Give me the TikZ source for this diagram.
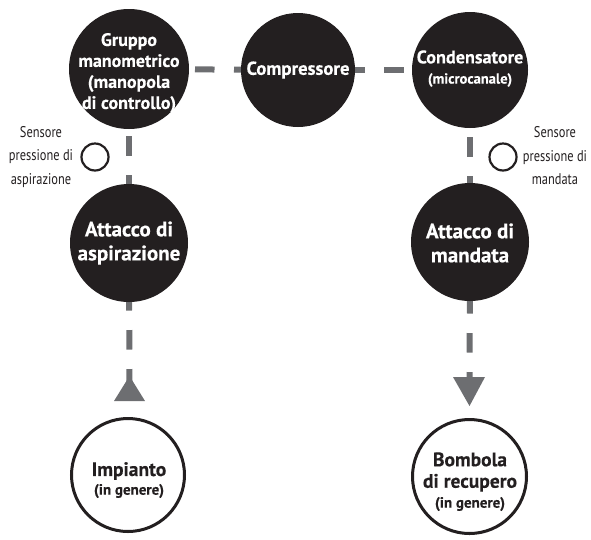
\documentclass[tikz,border=0pt]{standalone}
\usepackage{fontspec}
\setmainfont{PT Sans}[BoldFeatures={FakeBold=0.3}]
\newfontfamily\condfont[FakeStretch=0.8]{PT Sans}
\usetikzlibrary{backgrounds}
\definecolor{ink}{HTML}{231F20}
\definecolor{dashgray}{HTML}{6D6E71}
\begin{document}
\begin{tikzpicture}[x=1pt,y=-1pt,
  blackdot/.style={circle,fill=ink,draw=none,inner sep=0pt,minimum size=#1},
  whitedot/.style={circle,fill=white,draw=ink,line width=3pt,inner sep=0pt,minimum size=#1},
  sensor/.style={circle,draw=ink,line width=2.2pt,fill=white,inner sep=0pt,minimum size=27pt},
  wtxt/.style={text=white,font=\bfseries\fontsize{18}{21}\selectfont,align=center,inner sep=0pt},
  wsmall/.style={text=white,font=\bfseries\fontsize{14.5}{15}\selectfont,align=center,inner sep=0pt},
  btxt/.style={text=ink,font=\bfseries\fontsize{19.5}{21.5}\selectfont,align=center,inner sep=0pt},
  bsmall/.style={text=ink,font=\bfseries\fontsize{15}{15}\selectfont,align=center,inner sep=0pt},
  lbl/.style={text=ink,font=\condfont\fontsize{15.5}{23.5}\selectfont,align=center,inner sep=0pt},
  link/.style={draw=dashgray,line width=6pt,dash pattern=on 19.5pt off 19.5pt},
  tipshape/.style={fill=dashgray,draw=none}]
\useasboundingbox (0,0) rectangle (591,539);

% circles
\node[blackdot=120pt] (gruppo) at (129,69) {};
\node[blackdot=114pt] (compr) at (298,70) {};
\node[blackdot=116pt] (cond) at (470,70) {};
\node[blackdot=118pt] (attL) at (129,243) {};
\node[blackdot=118pt] (attR) at (470,242) {};
\node[whitedot=113pt] (imp) at (128,475) {};
\node[whitedot=114pt] (bomb) at (469.5,476.5) {};

% sensors
\node[sensor] (sensL) at (95,157) {};
\node[sensor] (sensR) at (503,157) {};

% arrow heads
\fill[tipshape] (114,401) -- (129.5,376) -- (145,401) -- cycle;
\coordinate (tipL) at (129.5,392);
\fill[tipshape] (453,377) -- (485,377) -- (469.5,406) -- cycle;
\coordinate (tipR) at (469.5,386);

% connectors
\begin{scope}[on background layer]
\draw[link,dash phase=12pt] (gruppo.center) -- (compr.center);
\draw[link,dash phase=31pt] (compr.center) -- (cond.center);
\draw[link,dash phase=11pt] (gruppo.center) -- (attL.center);
\draw[link,dash phase=11pt] (cond.center) -- (attR.center);
\draw[link,dash phase=30pt] (attL.center) -- (tipL);
\draw[link,dash phase=26pt] (attR.center) -- (tipR);
\end{scope}

% texts
\node[wtxt] (tGruppo) at (129,73) {Gruppo\\manometrico\\(manopola\\di controllo)};
\node[wtxt,font=\bfseries\fontsize{18.7}{21}\selectfont] (tCompr) at (298,70) {Compressore};
\node[wtxt,font=\bfseries\fontsize{18.2}{21}\selectfont] (tCond) at (470,57) {Condensatore};
\node[wsmall] (tMicro) at (470,80) {(microcanale)};
\node[wtxt,font=\bfseries\fontsize{21}{24}\selectfont] (tAttL) at (129,243) {Attacco di\\aspirazione};
\node[wtxt,font=\bfseries\fontsize{21}{24}\selectfont] (tAttR) at (470,243) {Attacco di\\mandata};
\node[btxt] (tImp) at (129,471) {Impianto};
\node[bsmall] (tImpG) at (129,491) {(in genere)};
\node[btxt] (tBomb) at (470,472) {Bombola\\di recupero};
\node[bsmall] (tBombG) at (470,504) {(in genere)};
\node[lbl] (lSensL) at (41,157) {Sensore\\pressione di\\aspirazione};
\node[lbl] (lSensR) at (555,156) {Sensore\\pressione di\\mandata};
\end{tikzpicture}
\end{document}
